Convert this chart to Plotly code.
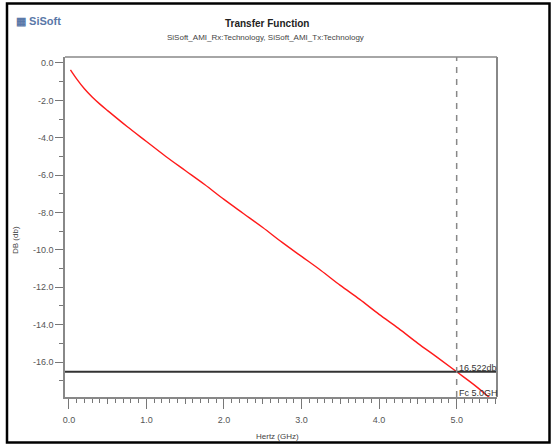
import plotly.graph_objects as go

# ---- data ----
freq_ghz = [0.02, 0.1, 0.2, 0.3, 0.4, 0.5, 0.75, 1.0, 1.25, 1.5, 1.75, 2.0, 2.25,
            2.5, 2.75, 3.0, 3.25, 3.5, 3.75, 4.0, 4.25, 4.5, 4.75, 5.0, 5.25, 5.45]
gain_db = [-0.37, -0.85, -1.38, -1.82, -2.2, -2.55, -3.4, -4.2, -5.0, -5.75, -6.5,
           -7.3, -8.05, -8.8, -9.6, -10.35, -11.1, -11.9, -12.65, -13.45, -14.2,
           -15.0, -15.75, -16.52, -17.3, -18.0]
fc_ghz = 5.0
fc_db = -16.522
y_ticks = [0.0, -2.0, -4.0, -6.0, -8.0, -10.0, -12.0, -14.0, -16.0]
x_ticks = [0.0, 1.0, 2.0, 3.0, 4.0, 5.0]
half_ticks = [0.5, 1.5, 2.5, 3.5, 4.5, 5.5]

W, H = 551, 447
L, R, T, B = 65, 54, 57, 50
pw, ph = W - L - R, H - T - B

def px(xp):
    return (xp - L) / pw

def py(yp):
    return (H - B - yp) / ph

FONT = "Liberation Sans, Arial, sans-serif"

fig = go.Figure()
fig.add_trace(go.Scatter(x=freq_ghz, y=gain_db, mode="lines",
                         line=dict(color="#ff1a1a", width=1.4, shape="spline"),
                         hoverinfo="skip", showlegend=False))
# invisible trace for overlay axis (half ticks)
fig.add_trace(go.Scatter(x=[half_ticks[0]], y=[gain_db[0]], xaxis="x2", mode="markers",
                         marker=dict(opacity=0), hoverinfo="skip", showlegend=False))

fig.add_hline(y=fc_db, line=dict(color="#333333", width=2))
fig.add_vline(x=fc_ghz, line=dict(color="#888888", width=1.5, dash="6px,6px"))

fig.add_annotation(x=fc_ghz, y=fc_db, text=f"{fc_db:.3f}db".lstrip("-"), showarrow=False,
                   xanchor="left", yanchor="bottom", xshift=0, yshift=-3,
                   font=dict(family=FONT, size=9, color="#333333"))
fig.add_annotation(x=fc_ghz, y=0, yref="paper", text=f"Fc {fc_ghz:.1f}GH", showarrow=False,
                   xanchor="left", yanchor="bottom", xshift=0, yshift=-3,
                   font=dict(family=FONT, size=9, color="#333333"))

# titles
fig.add_annotation(x=px(267), y=py(24), xref="paper", yref="paper", text="<b>Transfer Function</b>",
                   showarrow=False, xanchor="center", yanchor="middle",
                   font=dict(family=FONT, size=10, color="#222222"))
fig.add_annotation(x=px(265), y=py(37), xref="paper", yref="paper",
                   text="SiSoft_AMI_Rx:Technology, SiSoft_AMI_Tx:Technology",
                   showarrow=False, xanchor="center", yanchor="middle",
                   font=dict(family=FONT, size=8, color="#444444"))
fig.add_annotation(x=px(14), y=py(21), xref="paper", yref="paper",
                   text="<b>▦ SiSoft</b>", showarrow=False, xanchor="left", yanchor="middle",
                   font=dict(family=FONT, size=11, color="#5a78a8"))
fig.add_annotation(x=px(277), y=py(436), xref="paper", yref="paper", text="Hertz (GHz)",
                   showarrow=False, xanchor="center", yanchor="middle",
                   font=dict(family=FONT, size=8, color="#444444"))
fig.add_annotation(x=px(15), y=py(240), xref="paper", yref="paper", text="DB (db)",
                   showarrow=False, xanchor="center", yanchor="middle", textangle=-90,
                   font=dict(family=FONT, size=8, color="#444444"))

# outer frame
fig.add_shape(type="rect", xref="paper", yref="paper",
              x0=px(7), x1=px(549.5), y0=py(442.5), y1=py(3.5),
              line=dict(color="#000000", width=2.5), layer="above")

fig.update_layout(
    width=W, height=H,
    margin=dict(l=L, r=R, t=T, b=B),
    paper_bgcolor="white", plot_bgcolor="white",
    showlegend=False,
    xaxis=dict(range=[-0.05, 5.52], tickvals=x_ticks, ticktext=[f"{v:.1f}" for v in x_ticks],
               ticks="outside", ticklen=10, tickwidth=1, tickcolor="#777777",
               showgrid=False, zeroline=False, showline=True, linecolor="#888888",
               linewidth=1.5, mirror=False, ticklabelstandoff=3,
               tickfont=dict(family=FONT, size=9, color="#555555"),
               minor=dict(dtick=0.1, tick0=0, ticks="outside", ticklen=4, tickcolor="#777777",
                          showgrid=False)),
    xaxis2=dict(range=[-0.05, 5.52], overlaying="x", anchor="y", side="bottom",
                tickvals=half_ticks, ticks="outside", ticklen=6, tickcolor="#777777",
                showticklabels=False, showgrid=False, zeroline=False, showline=False),
    yaxis=dict(range=[-17.87, 0.32], tickvals=y_ticks, ticktext=[f"{v:.1f}" for v in y_ticks],
               ticks="outside", ticklen=8, tickwidth=1, tickcolor="#777777",
               showgrid=False, zeroline=False, showline=True, linecolor="#888888",
               linewidth=1.5, mirror=False,
               tickfont=dict(family=FONT, size=9, color="#555555"),
               minor=dict(dtick=1, tick0=0, ticks="outside", ticklen=4, tickcolor="#777777",
                          showgrid=False)),
)

# top and right plot borders
fig.add_shape(type="line", xref="paper", yref="paper", x0=0, x1=1, y0=1, y1=1,
              line=dict(color="#888888", width=1.5))
fig.add_shape(type="line", xref="paper", yref="paper", x0=1, x1=1, y0=0, y1=1,
              line=dict(color="#888888", width=2))

fig.write_html("out.html", config={"displayModeBar": False},
               post_script="document.body.style.margin='0';document.body.style.overflow='hidden';")
